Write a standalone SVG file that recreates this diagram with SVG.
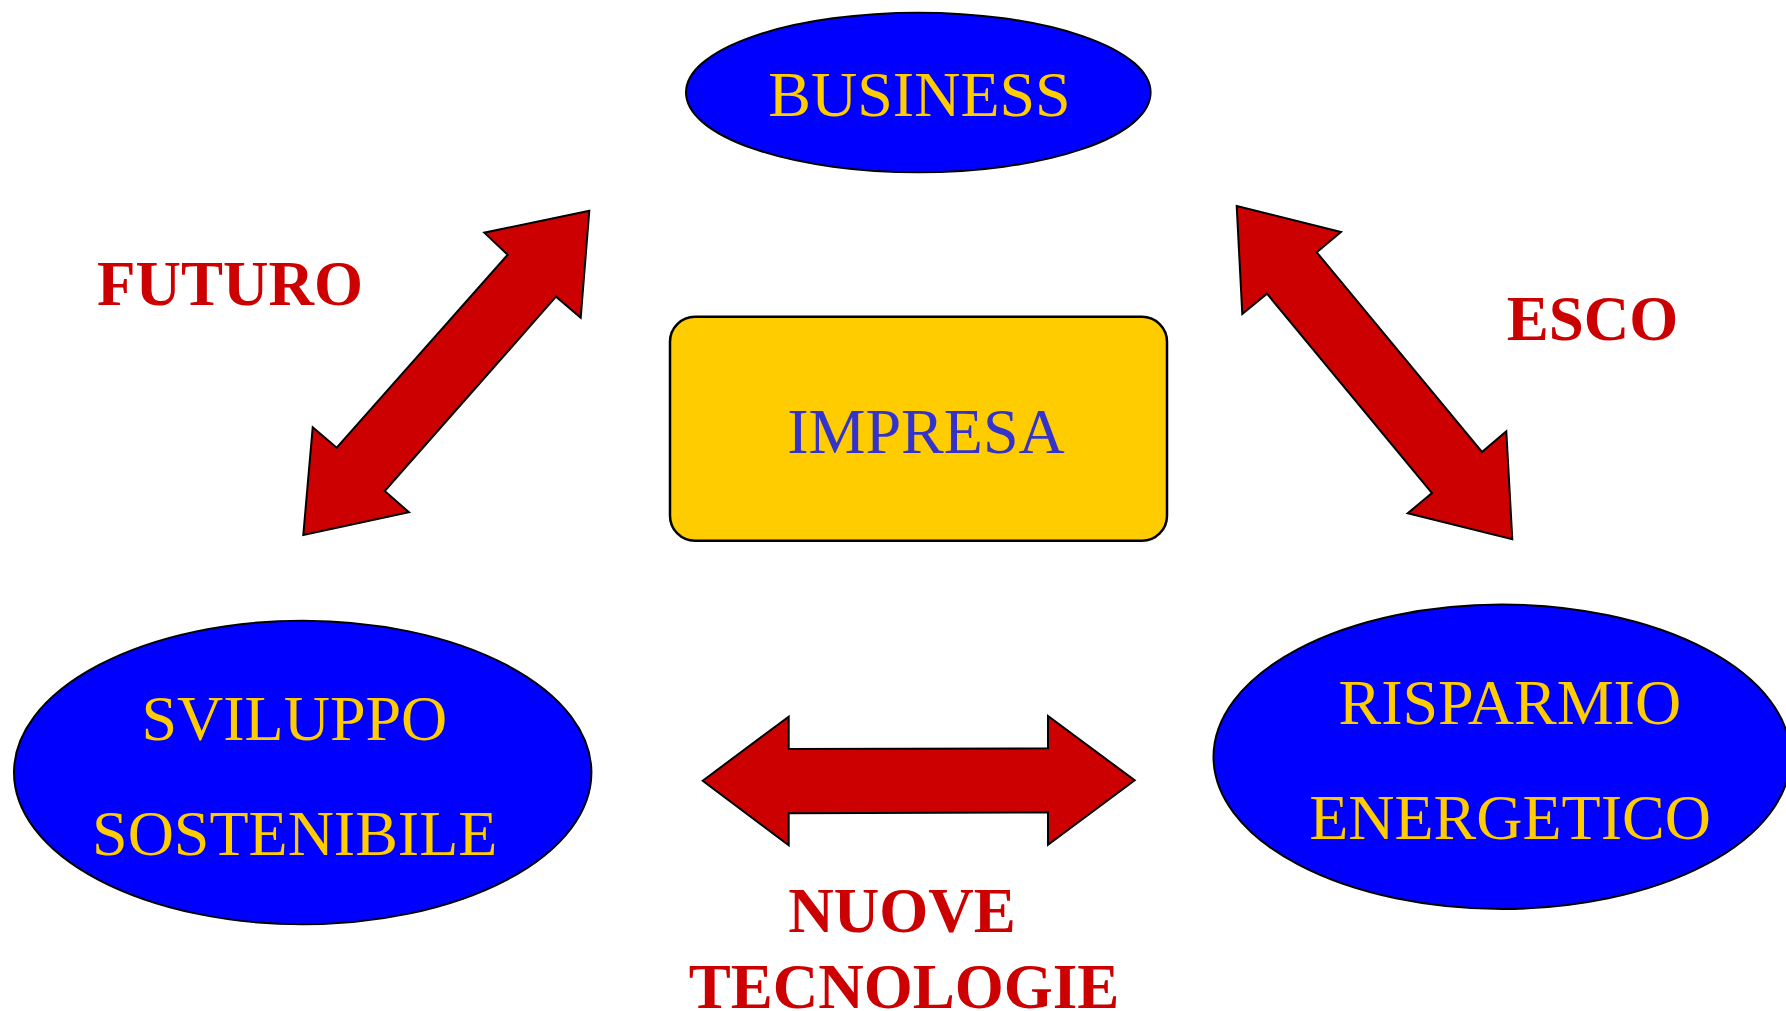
<svg xmlns="http://www.w3.org/2000/svg" width="1786" height="1011" viewBox="0 0 1786 1011">
<style>
.node{fill:#0000FF;stroke:#000;stroke-width:2}
.box{fill:#FFCC00;stroke:#000;stroke-width:2.5}
.arrow{fill:#CC0000;stroke:#000;stroke-width:2;stroke-linejoin:miter}
.t{font-family:"Liberation Serif","Times New Roman",serif;font-size:64px;text-anchor:middle}
.y{fill:#FFCC00}
.lbl{fill:#CC0000;font-weight:bold;font-size:63px}
</style>
<rect width="1786" height="1011" fill="#FFFFFF"/>
<g id="connectors">
<polygon class="arrow" points="589.3,210.7 580.7,317.7 556,296.7 384.7,491 409,512.3 303.3,535 312.7,427.3 336.7,447.7 507.7,254.7 484.3,232.7"/>
<polygon class="arrow" points="1236.7,206 1341,232 1316.7,252.3 1482,452 1506.3,431.3 1512.3,539.3 1407.7,513.3 1432,493 1267,293.7 1242.3,314"/>
<polygon class="arrow" points="702.7,780.7 788.7,716.7 788.7,749 1048,748.3 1048,716 1134.7,780.3 1048,844.7 1048,812.3 788.7,813.3 788.7,845.3"/>
</g>
<g id="label-futuro"><text class="t lbl" x="230" y="305">FUTURO</text></g>
<g id="label-esco"><text class="t lbl" x="1592.5" y="340">ESCO</text></g>
<g id="label-nuove-tecnologie">
<text class="t lbl" x="902" y="931.7">NUOVE</text>
<text class="t lbl" x="904" y="1007.7">TECNOLOGIE</text>
</g>
<g id="node-business">
<ellipse class="node" cx="918.3" cy="92.5" rx="232.3" ry="79.8"/>
<text class="t y" x="919.5" y="116">BUSINESS</text>
</g>
<g id="node-impresa">
<rect class="box" x="670" y="316.7" width="497" height="224" rx="25" ry="25"/>
<text class="t" x="926" y="452.7" fill="#3333CC">IMPRESA</text>
</g>
<g id="node-sviluppo">
<ellipse class="node" cx="302.7" cy="772.5" rx="288.7" ry="151.8"/>
<text class="t y" x="294.4" y="740">SVILUPPO</text>
<text class="t y" x="294.7" y="855">SOSTENIBILE</text>
</g>
<g id="node-risparmio">
<ellipse class="node" cx="1502" cy="756.8" rx="288.5" ry="152.2"/>
<text class="t y" x="1509.8" y="724.3">RISPARMIO</text>
<text class="t y" x="1510" y="839">ENERGETICO</text>
</g>
</svg>
